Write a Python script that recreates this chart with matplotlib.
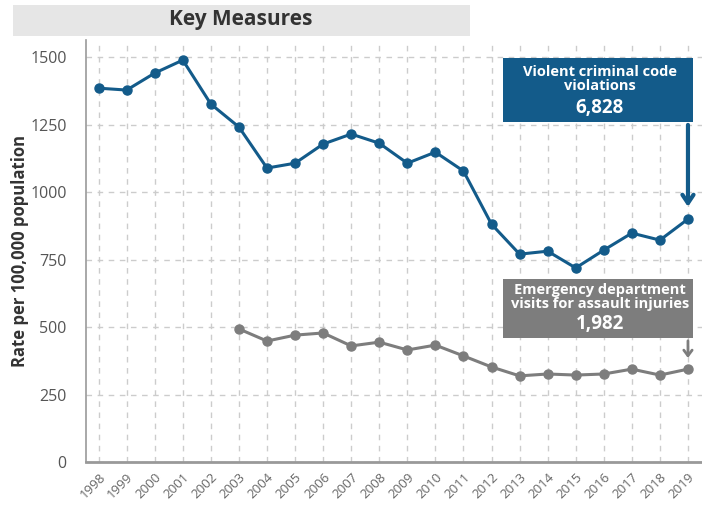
import matplotlib
matplotlib.use("Agg")
import matplotlib.pyplot as plt
from matplotlib.patches import Rectangle

years = list(range(1998, 2020))
violent = [1385, 1378, 1441, 1489, 1326, 1241, 1089, 1107, 1178, 1215, 1181,
           1107, 1148, 1078, 881, 770, 781, 719, 785, 848, 822, 900]
ed_years = list(range(2003, 2020))
ed_visits = [493, 448, 470, 478, 430, 444, 415, 433, 393, 352, 319, 326, 322,
             326, 344, 322, 344]
yticks = [0, 250, 500, 750, 1000, 1250, 1500]

blue = "#135b8a"
grey = "#7d7d7d"

plt.rcParams['font.family'] = ['Open Sans', 'DejaVu Sans']

fig = plt.figure(figsize=(7.02, 5.08), dpi=100)
ax = fig.add_axes([0.1225, 0.0906, 0.8775, 0.8304])

ax.set_xlim(1997.55, 2019.5)
ax.set_ylim(0, 1563)
ax.set_yticks(yticks)
ax.set_xticks(years)
ax.set_xticklabels([str(y) for y in years], rotation=45, ha='right',
                   rotation_mode='anchor', fontsize=9.5, color='#666666')
ax.set_yticklabels([str(v) for v in yticks], fontsize=11.5, color='#555555')
ax.tick_params(axis='both', length=0, pad=14)
ax.tick_params(axis='x', pad=6)

ax.grid(True, linestyle=(0, (4, 4)), color='#cccccc', linewidth=1)
ax.set_axisbelow(True)
for s in ['top', 'right']:
    ax.spines[s].set_visible(False)
ax.spines['left'].set_color('#999999')
ax.spines['left'].set_linewidth(1.2)
ax.spines['bottom'].set_color('#999999')
ax.spines['bottom'].set_linewidth(2)

ax.plot(years, violent, color=blue, lw=2.2, marker='o', ms=6.5, zorder=3)
ax.plot(ed_years, ed_visits, color=grey, lw=2.2, marker='o', ms=6.5, zorder=3)

ax.set_ylabel("Rate per 100,000 population", fontsize=12, fontweight='bold',
              color='#333333', labelpad=1)

# Title band
fig.patches.append(Rectangle((13/702, 1 - 36/508), (470-13)/702, 31/508,
                             transform=fig.transFigure, facecolor='#e6e6e6',
                             edgecolor='none', zorder=0))
fig.text(241/702, 1 - 20/508, "Key Measures", ha='center', va='center',
         fontsize=15, fontweight='bold', color='#333333')

# Annotation boxes
def box(x0, y0, x1, y1, color):
    fig.patches.append(Rectangle((x0/702, 1 - y1/508), (x1-x0)/702, (y1-y0)/508,
                                 transform=fig.transFigure, facecolor=color,
                                 edgecolor='none', zorder=5))

box(503, 58, 693, 122, blue)
fig.text(600/702, 1 - 79/508, "Violent criminal code\nviolations", ha='center',
         va='center', fontsize=10.5, fontweight='bold', color='white',
         linespacing=1.0, zorder=6)
fig.text(600/702, 1 - 108/508, "6,828", ha='center', va='center',
         fontsize=13.5, fontweight='bold', color='white', zorder=6)

box(503, 279, 693, 338, grey)
fig.text(600/702, 1 - 297/508, "Emergency department\nvisits for assault injuries",
         ha='center', va='center', fontsize=10.5, fontweight='bold', color='white',
         linespacing=1.0, zorder=6)
fig.text(600/702, 1 - 324/508, "1,982", ha='center', va='center',
         fontsize=13.5, fontweight='bold', color='white', zorder=6)

# Arrows
ax.annotate("", xy=(2019, 935), xytext=(2019, (462-122)/0.27),
            arrowprops=dict(arrowstyle='->,head_length=0.6,head_width=0.4',
                            color=blue, lw=3), zorder=4)
ax.annotate("", xy=(2019, 375), xytext=(2019, (462-338)/0.27),
            arrowprops=dict(arrowstyle='->,head_length=0.4,head_width=0.3',
                            color=grey, lw=2), zorder=4)

fig.savefig("out.png", dpi=100)
